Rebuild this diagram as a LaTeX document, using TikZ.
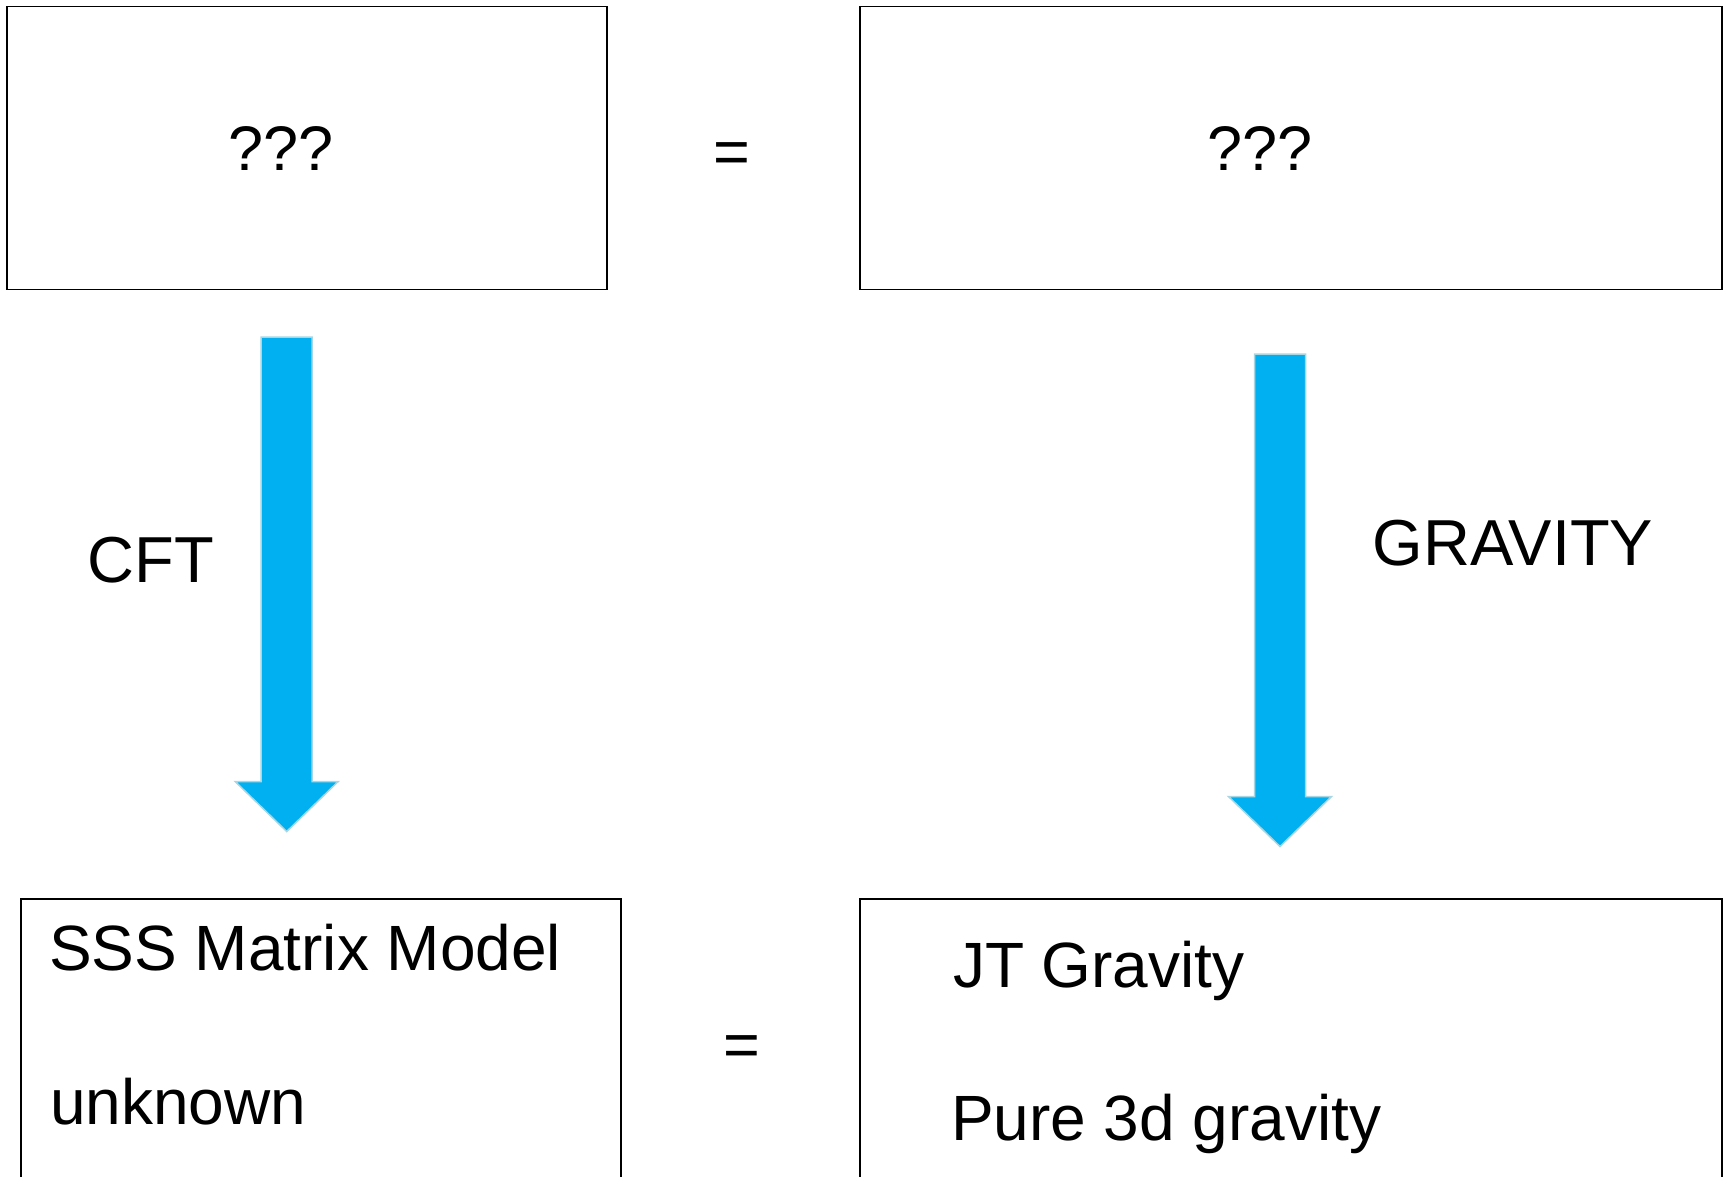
\documentclass[tikz,border=0pt]{standalone}
\usepackage{fontspec}
\setmainfont{Liberation Sans}
\usepackage{tikz}
\usetikzlibrary{positioning}
\definecolor{arrowblue}{RGB}{0,176,240}
\definecolor{arrowrim}{RGB}{168,214,226}

\begin{document}
\begin{tikzpicture}[
  x=1pt, y=-1pt,
  every node/.style={inner sep=0pt, outer sep=0pt},
  theorybox/.style ={draw=black, line width=1.6pt},
  boxtext/.style   ={font=\fontsize{64}{77}\selectfont},
  marktext/.style  ={font=\fontsize{63}{76}\selectfont},
  arrowtext/.style ={font=\fontsize{65}{78}\selectfont},
  blockarrow/.style={fill=arrowblue, draw=arrowrim, line width=1.5pt,
                     line join=miter}]

% the block arrow: centre x, top of shaft, base of head, tip
\newcommand{\barrow}[4]{%
  \path[blockarrow] (#1-25.5,#2) -- (#1+25.5,#2) -- (#1+25.5,#3)
    -- (#1+51.5,#3) -- (#1,#4) -- (#1-51.5,#3) -- (#1-25.5,#3) -- cycle;}

\clip (0,0) rectangle (1733,1176);

% ==========================  the top row  ============================
\node[theorybox, minimum width=600pt, minimum height=283pt]
  (topleft)  at (306.7,148) {};
\node[theorybox, minimum width=862pt, minimum height=283pt]
  (topright) at (1291,148) {};
\node[marktext, anchor=base] (qleft)  at (281,170)    {???};
\node[marktext, anchor=base] (qright) at (1260,170)   {???};
\node[marktext, anchor=base] (eqtop)  at (731.6,173) {=};

% ============================  the arrows  ===========================
\barrow{286.7}{337}{781.5}{831.5}
\barrow{1280}{354}{796.5}{846.5}
\node[arrowtext, anchor=base] (cft)     at (151,582.5) {CFT};
\node[arrowtext, anchor=base] (gravity) at (1513,565)  {GRAVITY};

% ========================  the bottom row  ===========================
\node[theorybox, minimum width=600pt, minimum height=420pt]
  (botleft)  at (321,1109) {};
\node[theorybox, minimum width=862pt, minimum height=420pt]
  (botright) at (1291,1109) {};
\node[boxtext, anchor=base west] (sss)     at (49,970)    {SSS Matrix Model};
\node[boxtext, anchor=base west] (unknown) at (50,1124)   {unknown};
\node[boxtext, anchor=base west] (jt)      at (953,987)   {JT Gravity};
\node[boxtext, anchor=base west] (pure)    at (951,1140.5) {Pure 3d gravity};
\node[marktext, anchor=base] (eqbot) at (741.6,1066) {=};

\end{tikzpicture}
\end{document}
